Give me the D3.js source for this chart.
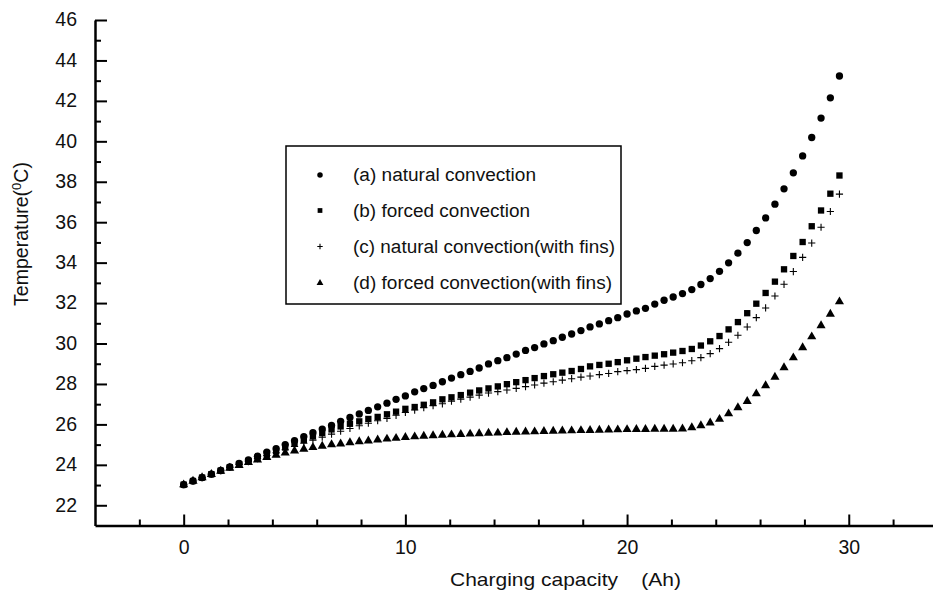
<!DOCTYPE html>
<html>
<head>
<meta charset="utf-8">
<script src="https://cdn.jsdelivr.net/npm/d3@7/dist/d3.min.js"></script>
<style>
  html, body { margin: 0; padding: 0; background: #fff; }
  svg { display: block; }
  text { font-family: "Liberation Sans", Arial, sans-serif; fill: #111; }
</style>
</head>
<body>
<svg id="chart" width="933" height="595"></svg>
<script>
// ---------------- data ----------------
const capacity = [0, 0.42, 0.83, 1.25, 1.67, 2.08, 2.5, 2.92, 3.33, 3.75, 4.17, 4.58, 5, 5.42, 5.83, 6.25, 6.67, 7.08, 7.5, 7.92,
  8.33, 8.75, 9.17, 9.58, 10, 10.42, 10.83, 11.25, 11.67, 12.08, 12.5, 12.92, 13.33, 13.75, 14.17, 14.58, 15, 15.42, 15.83, 16.25,
  16.67, 17.08, 17.5, 17.92, 18.33, 18.75, 19.17, 19.58, 20, 20.42, 20.83, 21.25, 21.67, 22.08, 22.5, 22.92, 23.33, 23.75, 24.17, 24.58,
  25, 25.42, 25.83, 26.25, 26.67, 27.08, 27.5, 27.92, 28.33, 28.75, 29.17, 29.58];

const naturalConv = [23.02, 23.2, 23.37, 23.54, 23.72, 23.9, 24.07, 24.24, 24.43, 24.63, 24.8, 25.0, 25.19, 25.4, 25.59, 25.77, 25.95, 26.15, 26.34, 26.52,
  26.69, 26.87, 27.05, 27.24, 27.41, 27.61, 27.77, 27.93, 28.11, 28.29, 28.46, 28.62, 28.79, 28.99, 29.15, 29.3, 29.48, 29.66, 29.8, 29.98,
  30.14, 30.31, 30.47, 30.64, 30.82, 30.97, 31.13, 31.28, 31.46, 31.61, 31.74, 31.95, 32.14, 32.3, 32.47, 32.67, 32.92, 33.21, 33.57, 33.99,
  34.47, 34.99, 35.59, 36.21, 36.89, 37.65, 38.44, 39.28, 40.19, 41.15, 42.15, 43.23];

const forcedConv = [23.02, 23.2, 23.37, 23.54, 23.71, 23.88, 24.04, 24.19, 24.36, 24.53, 24.68, 24.86, 25.05, 25.23, 25.41, 25.58, 25.75, 25.9, 26.03, 26.15,
  26.27, 26.37, 26.5, 26.63, 26.77, 26.86, 26.97, 27.09, 27.24, 27.34, 27.45, 27.57, 27.68, 27.78, 27.88, 27.99, 28.09, 28.19, 28.29, 28.39,
  28.48, 28.56, 28.64, 28.74, 28.87, 28.94, 29.0, 29.08, 29.17, 29.25, 29.33, 29.4, 29.47, 29.55, 29.63, 29.73, 29.9, 30.11, 30.37, 30.7,
  31.06, 31.5, 31.97, 32.5, 33.06, 33.67, 34.33, 35.02, 35.8, 36.58, 37.41, 38.31];

const naturalFins = [23.02, 23.2, 23.37, 23.54, 23.71, 23.87, 24.02, 24.16, 24.31, 24.46, 24.6, 24.75, 24.91, 25.07, 25.22, 25.37, 25.52, 25.66, 25.8, 25.93,
  26.06, 26.18, 26.3, 26.45, 26.59, 26.71, 26.83, 26.93, 27.02, 27.15, 27.25, 27.35, 27.45, 27.55, 27.62, 27.7, 27.78, 27.87, 27.95, 28.04,
  28.11, 28.19, 28.26, 28.34, 28.39, 28.46, 28.52, 28.61, 28.66, 28.71, 28.77, 28.87, 28.93, 28.99, 29.05, 29.15, 29.3, 29.5, 29.75, 30.06,
  30.41, 30.82, 31.28, 31.76, 32.35, 32.93, 33.56, 34.26, 34.97, 35.75, 36.53, 37.39];

const forcedFins = [23.02, 23.2, 23.37, 23.53, 23.69, 23.84, 23.98, 24.12, 24.25, 24.37, 24.48, 24.59, 24.69, 24.78, 24.86, 24.93, 25.0, 25.04, 25.1, 25.15,
  25.19, 25.24, 25.28, 25.32, 25.36, 25.39, 25.42, 25.45, 25.47, 25.49, 25.51, 25.53, 25.55, 25.57, 25.58, 25.6, 25.62, 25.63, 25.64, 25.66,
  25.67, 25.68, 25.69, 25.7, 25.71, 25.72, 25.73, 25.74, 25.75, 25.76, 25.76, 25.77, 25.77, 25.77, 25.78, 25.84, 25.94, 26.08, 26.26, 26.53,
  26.83, 27.14, 27.52, 27.92, 28.34, 28.81, 29.3, 29.8, 30.34, 30.89, 31.46, 32.07];

const seriesNames = ["(a) natural convection", "(b) forced convection", "(c) natural convection(with fins)", "(d) forced convection(with fins)"];
const xMajorTicks = [0, 10, 20, 30];
const xMinorTicks = [-2, 2, 4, 6, 8, 12, 14, 16, 18, 22, 24, 26, 28, 32];
const yMajorTicks = [22, 24, 26, 28, 30, 32, 34, 36, 38, 40, 42, 44, 46];
const yMinorTicks = [23, 25, 27, 29, 31, 33, 35, 37, 39, 41, 43, 45];
const xTitle = "Charging capacity    (Ah)";

// ---------------- chart ----------------
const svg = d3.select("#chart");
const x = d3.scaleLinear().domain([-4, 33.8]).range([95, 933]);
const y = d3.scaleLinear().domain([21, 46]).range([525.5, 20]);
const axisY0 = y.range()[0];
const axisX0 = x.range()[0];

const series = [
  { name: seriesNames[0], values: naturalConv, symbol: d3.symbolCircle, size: 42, fill: "#000" },
  { name: seriesNames[1], values: forcedConv, symbol: d3.symbolSquare, size: 40, fill: "#000" },
  { name: seriesNames[2], values: naturalFins, symbol: d3.symbolCross, size: 0, fill: "none", plus: true },
  { name: seriesNames[3], values: forcedFins, symbol: d3.symbolTriangle, size: 36, fill: "#000" }
];

function drawMarker(g, s, cx, cy, scale) {
  if (s.plus) {
    const h = 3.6 * scale;
    g.append("path")
      .attr("d", `M${cx - h},${cy}H${cx + h}M${cx},${cy - h}V${cy + h}`)
      .attr("stroke", "#000").attr("stroke-width", 1.1).attr("fill", "none");
  } else {
    g.append("path")
      .attr("d", d3.symbol().type(s.symbol).size(s.size * scale * scale)())
      .attr("transform", `translate(${cx},${cy})`)
      .attr("fill", s.fill);
  }
}

// markers
const marks = svg.append("g");
series.forEach(s => {
  const g = marks.append("g");
  s.values.forEach((v, i) => drawMarker(g, s, x(capacity[i]), y(v), 1));
});

// x axis
const fs = 19.5;
const xAxisMajor = d3.axisBottom(x).tickValues(xMajorTicks).tickSizeInner(-11).tickSizeOuter(0).tickPadding(15).tickFormat(d3.format("d"));
const gx = svg.append("g").attr("transform", `translate(0,${axisY0})`).call(xAxisMajor);
gx.select(".domain").attr("stroke", "#000").attr("stroke-width", 2.5);
gx.selectAll(".tick line").attr("stroke", "#000").attr("stroke-width", 2);
gx.selectAll(".tick text").attr("font-size", fs).attr("fill", "#111")
  .style("font-family", '"Liberation Sans", Arial, sans-serif');

const xAxisMinor = d3.axisBottom(x).tickValues(xMinorTicks).tickSizeInner(-6).tickSizeOuter(0).tickFormat("");
const gxm = svg.append("g").attr("transform", `translate(0,${axisY0})`).call(xAxisMinor);
gxm.select(".domain").remove();
gxm.selectAll(".tick line").attr("stroke", "#000").attr("stroke-width", 2);

// y axis
const yAxisMajor = d3.axisLeft(y).tickValues(yMajorTicks).tickSizeInner(-12).tickSizeOuter(0).tickPadding(18).tickFormat(d3.format("d"));
const gy = svg.append("g").attr("transform", `translate(${axisX0},0)`).call(yAxisMajor);
gy.select(".domain").attr("stroke", "#000").attr("stroke-width", 2.5);
gy.selectAll(".tick line").attr("stroke", "#000").attr("stroke-width", 2);
gy.selectAll(".tick text").attr("font-size", fs).attr("fill", "#111").attr("dy", "0.3em")
  .style("font-family", '"Liberation Sans", Arial, sans-serif');

const yAxisMinor = d3.axisLeft(y).tickValues(yMinorTicks).tickSizeInner(-6).tickSizeOuter(0).tickFormat("");
const gym = svg.append("g").attr("transform", `translate(${axisX0},0)`).call(yAxisMinor);
gym.select(".domain").remove();
gym.selectAll(".tick line").attr("stroke", "#000").attr("stroke-width", 2);

// axis titles
svg.append("text")
  .attr("x", 450).attr("y", 586)
  .attr("font-size", 19)
  .attr("xml:space", "preserve")
  .style("white-space", "pre")
  .attr("textLength", 231).attr("lengthAdjust", "spacingAndGlyphs")
  .text(xTitle);

const yt = svg.append("text")
  .attr("transform", "translate(28,234) rotate(-90)")
  .attr("text-anchor", "middle")
  .attr("font-size", 19.5);
yt.append("tspan").text("Temperature(");
yt.append("tspan").attr("font-size", 13).attr("dy", -7).text("0");
yt.append("tspan").attr("dy", 7).text("C)");

// legend
const legend = svg.append("g");
legend.append("rect")
  .attr("x", 286).attr("y", 146).attr("width", 335).attr("height", 158)
  .attr("fill", "none").attr("stroke", "#000").attr("stroke-width", 1.5);
const rowY = [175, 210.5, 246.5, 283];
const textW = [183, 177, 262, 259];
series.forEach((s, i) => {
  drawMarker(legend, s, 320, rowY[i], 0.75);
  legend.append("text")
    .attr("x", 353).attr("y", rowY[i]).attr("dy", "0.35em")
    .attr("font-size", 18)
    .attr("textLength", textW[i]).attr("lengthAdjust", "spacingAndGlyphs")
    .text(s.name);
});
</script>
</body>
</html>
